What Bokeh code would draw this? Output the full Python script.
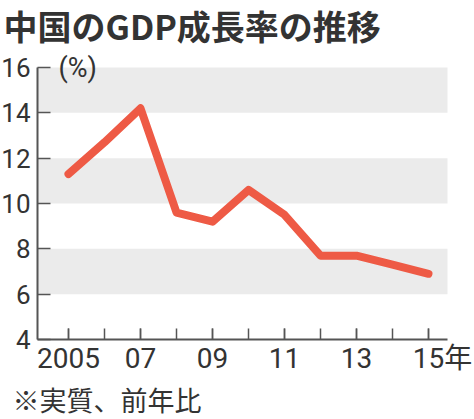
from bokeh.plotting import figure
from bokeh.models import FixedTicker, BoxAnnotation, Label, Range1d
from bokeh.embed import file_html
from bokeh.resources import INLINE

# ---- data ----
years = [2005, 2006, 2007, 2008, 2009, 2010, 2011, 2012, 2013, 2014, 2015]
growth = [11.3, 12.7, 14.2, 9.6, 9.2, 10.6, 9.5, 7.7, 7.7, 7.3, 6.9]
y_ticks = [4, 6, 8, 10, 12, 14, 16]
x_label_years = [2005, 2007, 2009, 2011, 2013, 2015]
x_labels = ["2005", "07", "09", "11", "13", "\u300015年"]
band_lows = [6, 10, 14]
band_highs = [8, 12, 16]
title_text = "中国のGDP成長率の推移"
unit_text = "(%)"
note_text = "※実質、前年比"

# ---- layout (pixels in the canvas) ----
W, H = 474, 419
AXIS_PX = 37            # pixel column of the y axis
FIRST_PX = 68           # pixel column of the first year
LAST_PX = 428           # pixel column of the last year
RIGHT_PAD_PX = 19
Y_TOP_PX, Y_BOT_PX = 67, 339   # pixel rows of the top and bottom ticks

PX_YEAR = (LAST_PX - FIRST_PX) / (years[-1] - years[0])
Y_MIN, Y_MAX = min(y_ticks), max(y_ticks)
PX_UNIT = (Y_BOT_PX - Y_TOP_PX) / (Y_MAX - Y_MIN)

x0 = years[0] - FIRST_PX / PX_YEAR
x1 = years[0] + (W - FIRST_PX) / PX_YEAR
y1 = Y_MAX + Y_TOP_PX / PX_UNIT
y0 = Y_MIN - (H - Y_BOT_PX) / PX_UNIT
axis_x = years[0] - (FIRST_PX - AXIS_PX) / PX_YEAR
band_right = years[-1] + RIGHT_PAD_PX / PX_YEAR

NUM_FONT = "Roboto, Noto Sans CJK JP"
JP_FONT = "Noto Sans CJK JP"
TXT = "#333333"
AX = "#555555"

p = figure(width=W, height=H, output_backend="svg", toolbar_location=None,
           x_range=Range1d(x0, x1), y_range=Range1d(y0, y1))
p.min_border = 0
p.outline_line_color = None
p.grid.visible = False
p.background_fill_color = "white"
p.border_fill_color = "white"

for lo, hi in zip(band_lows, band_highs):
    p.add_layout(BoxAnnotation(left=axis_x, right=band_right, bottom=lo, top=hi,
                               fill_color="#ebebeb", fill_alpha=1,
                               line_color=None, level="underlay"))

p.line(years, growth, line_color="#EE5A45", line_width=8,
       line_join="round", line_cap="round")

ya = p.yaxis[0]
ya.fixed_location = axis_x
ya.bounds = (Y_MIN, Y_MAX)
ya.ticker = FixedTicker(ticks=y_ticks)
ya.major_tick_in = 13
ya.major_tick_out = 0
ya.minor_tick_in = 0
ya.minor_tick_out = 0
ya.axis_line_color = AX
ya.axis_line_width = 2
ya.major_tick_line_color = AX
ya.major_tick_line_width = 1.5
ya.major_label_text_font = NUM_FONT
ya.major_label_text_font_size = "26px"
ya.major_label_text_color = TXT
ya.major_label_standoff = 7

xa = p.xaxis[0]
xa.fixed_location = Y_MIN
xa.bounds = (axis_x, band_right)
xa.ticker = FixedTicker(ticks=x_label_years, minor_ticks=years)
xa.major_label_overrides = {yr: lab for yr, lab in zip(x_label_years, x_labels)}
xa.major_tick_in = 11
xa.major_tick_out = 0
xa.minor_tick_in = 11
xa.minor_tick_out = 0
xa.axis_line_color = AX
xa.axis_line_width = 2
xa.major_tick_line_color = AX
xa.major_tick_line_width = 1.5
xa.minor_tick_line_color = AX
xa.minor_tick_line_width = 1.5
xa.major_label_text_font = NUM_FONT
xa.major_label_text_font_size = "28px"
xa.major_label_text_color = TXT
xa.major_label_standoff = 2

p.add_layout(Label(x=x0, y=y1, x_offset=3, y_offset=0, text=title_text,
                   text_font=JP_FONT, text_font_style="bold", text_font_size="34px",
                   text_color=TXT, text_baseline="top", text_align="left"))
p.add_layout(Label(x=axis_x, y=Y_MAX, x_offset=21, y_offset=0, text=unit_text,
                   text_font="Roboto", text_font_size="27px",
                   text_color=TXT, text_baseline="middle", text_align="left"))
p.add_layout(Label(x=x0, y=y0, x_offset=12, y_offset=1, text=note_text,
                   text_font=JP_FONT, text_font_size="27px",
                   text_color=TXT, text_baseline="bottom", text_align="left"))

open("out.html", "w").write(file_html(p, INLINE))
